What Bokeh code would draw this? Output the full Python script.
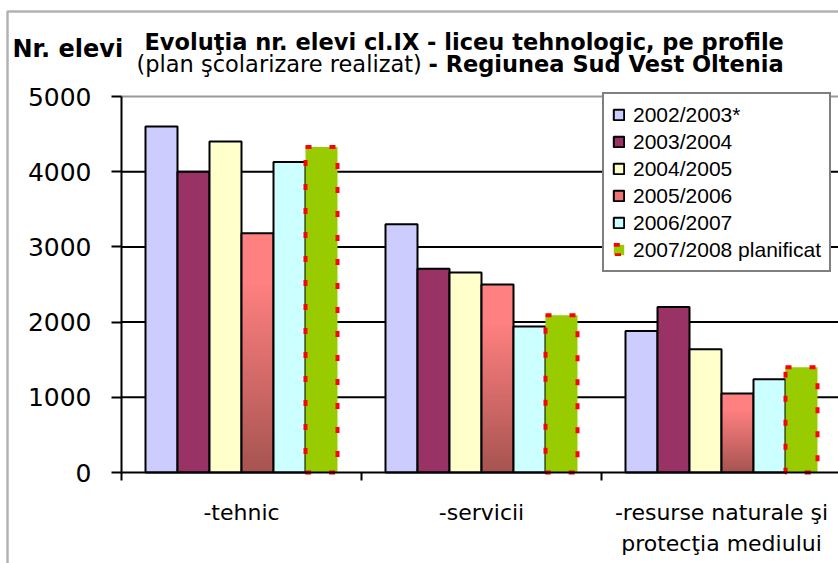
import numpy as np
from bokeh.plotting import figure
from bokeh.models import (Range1d, FixedTicker, Label, Legend, LegendItem,
                          BoxAnnotation)
from bokeh.embed import file_html
from bokeh.resources import INLINE

# ---------------- data ----------------
categories = ["-tehnic", "-servicii", "-resurse naturale şi\nprotecţia mediului"]
years = ["2002/2003*", "2003/2004", "2004/2005", "2005/2006", "2006/2007",
         "2007/2008 planificat"]
v_2002_2003 = [4600, 3300, 1880]
v_2003_2004 = [4000, 2710, 2200]
v_2004_2005 = [4400, 2660, 1640]
v_2005_2006 = [3180, 2500, 1050]
v_2006_2007 = [4130, 1940, 1240]
v_2007_2008 = [4330, 2090, 1400]
y_ticks = [0, 1000, 2000, 3000, 4000, 5000]

series = [v_2002_2003, v_2003_2004, v_2004_2005, v_2005_2006, v_2006_2007, v_2007_2008]
fills = ["#CCCCFF", "#993366", "#FFFFCC", None, "#CCFFFF", "#99CC00"]

# ---------------- layout (pixels) ----------------
W, H = 838, 563
PX_LEFT = 121      # x pixel of category axis start
PX_ZERO = 472      # y pixel of value 0
PX_TOP = 96        # y pixel of value 5000
CAT_PX = 240       # pixel width of one category
YMAX = y_ticks[-1]
SY = (PX_ZERO - PX_TOP) / YMAX

x_start, x_end = -PX_LEFT / CAT_PX, (W - PX_LEFT) / CAT_PX
y_start, y_end = -(H - PX_ZERO) / SY, YMAX + PX_TOP / SY

def xd(px):
    return (px - PX_LEFT) / CAT_PX

def yd(py):
    return (PX_ZERO - py) / SY

p = figure(width=W, height=H, output_backend="svg", toolbar_location=None,
           x_range=Range1d(x_start, x_end), y_range=Range1d(y_start, y_end),
           min_border_left=0, min_border_right=0, min_border_top=0,
           min_border_bottom=0)
p.outline_line_color = None
p.background_fill_color = "white"
p.border_fill_color = "white"
p.xgrid.visible = False
p.ygrid.visible = False

# chart-area border (left and top edges visible)
p.add_layout(BoxAnnotation(left=xd(7), top=yd(11), right=x_end + 1,
                           bottom=y_start - 1000, fill_color=None,
                           line_color="black", line_width=2.5))

# horizontal gridlines at the value ticks
grid_y = y_ticks[1:-1]
p.segment(x0=[0] * len(grid_y), x1=[x_end] * len(grid_y), y0=grid_y, y1=grid_y,
          line_color="black", line_width=2)
p.segment(x0=[0], x1=[x_end], y0=[YMAX], y1=[YMAX], line_color="#9a9a9a",
          line_width=2)

# bars
n = len(series)
group_w = 0.8
bw = group_w / n
xc = np.arange(len(categories)) + 0.5
legend_items = []
for i, vals in enumerate(series):
    xs = xc - group_w / 2 + bw * (i + 0.5)
    vals = np.asarray(vals, dtype=float)
    if i == 3:
        # gradient fill: light coral at top -> brown at bottom
        top_c = np.array([255, 128, 128])
        bot_c = np.array([166, 84, 80])
        N = 60
        rend_mid = None
        for k in range(N - 1, -1, -1):
            t = (k + 0.5) / N
            f = min(1.0, t / 0.8)
            c = bot_c + (top_c - bot_c) * f
            col = "#%02x%02x%02x" % tuple(int(round(v)) for v in c)
            r = p.vbar(x=xs, width=bw, bottom=0, top=vals * (k + 1) / N,
                       fill_color=col, line_color=None)
            if k == int(N * 0.6):
                rend_mid = r
        rend_o = p.vbar(x=xs, width=bw, top=vals, bottom=0, fill_color=None,
                        line_color="black", line_width=2)
        legend_items.append(LegendItem(label=years[i], renderers=[rend_mid, rend_o]))
    elif i == 5:
        r1 = p.vbar(x=xs, width=bw, top=vals, bottom=0, fill_color=fills[i],
                    line_color=None)
        r2 = p.vbar(x=xs, width=bw, top=vals, bottom=0, fill_color=None,
                    line_color="#FF0000", line_width=4, line_dash="6 18")
        legend_items.append(LegendItem(label=years[i], renderers=[r1, r2]))
    else:
        r = p.vbar(x=xs, width=bw, top=vals, bottom=0, fill_color=fills[i],
                   line_color="black", line_width=2)
        legend_items.append(LegendItem(label=years[i], renderers=[r]))

# axes (fixed at the data origin)
p.yaxis.fixed_location = 0
p.yaxis.bounds = (0, YMAX)
p.yaxis.ticker = FixedTicker(ticks=y_ticks)
p.yaxis.major_label_text_font = "DejaVu Sans"
p.yaxis.major_label_text_font_size = "25px"
p.yaxis.major_label_text_color = "black"
p.yaxis.major_tick_out = 10
p.yaxis.major_tick_in = 0
p.yaxis.minor_tick_line_color = None
p.yaxis.axis_line_width = 2
p.yaxis.major_tick_line_width = 2
p.yaxis.major_label_standoff = 20

overrides = {}
for x, c in zip(xc, categories):
    overrides[float(x)] = c
    overrides[str(float(x))] = c
p.xaxis.fixed_location = 0
p.xaxis.bounds = (0, x_end)
p.xaxis.ticker = FixedTicker(ticks=list(xc), minor_ticks=list(range(len(categories) + 1)))
p.xaxis.major_label_overrides = overrides
p.xaxis.major_label_text_font = "DejaVu Sans"
p.xaxis.major_label_text_font_size = "22px"
p.xaxis.major_label_text_color = "black"
p.xaxis.major_label_text_line_height = 1.25
p.xaxis.major_tick_line_color = None
p.xaxis.major_tick_out = 0
p.xaxis.major_tick_in = 0
p.xaxis.minor_tick_out = 8
p.xaxis.minor_tick_in = 0
p.xaxis.minor_tick_line_width = 2
p.xaxis.minor_tick_line_color = "black"
p.xaxis.axis_line_width = 2
p.xaxis.major_label_standoff = 19

# legend (screen position from frame bottom-left)
legend = Legend(items=legend_items, location=(602, H - 272),
                label_text_font="Liberation Sans", label_text_font_size="21px",
                label_text_color="black", glyph_width=13, glyph_height=13,
                label_standoff=8, label_height=25, spacing=2, padding=8, margin=0,
                border_line_color="black", border_line_width=2,
                background_fill_color="white", background_fill_alpha=1.0)
p.add_layout(legend, "center")

# titles
def lab(text, px, py, size, bold=True):
    p.add_layout(Label(x=xd(px), y=yd(py), text=text,
                       text_font="DejaVu Sans", text_font_size=size,
                       text_font_style="bold" if bold else "normal",
                       text_color="black", text_baseline="alphabetic",
                       text_align="left"))

lab("Nr. elevi", 12, 48, "24px")
lab("Evoluţia nr. elevi cl.IX - liceu tehnologic, pe profile", 144, 41, "22.5px")
lab("(plan şcolarizare realizat)", 136, 63, "22.5px", bold=False)
lab("- Regiunea Sud Vest Oltenia", 428, 63, "22.5px")

open("out.html", "w").write(file_html(p, INLINE))
